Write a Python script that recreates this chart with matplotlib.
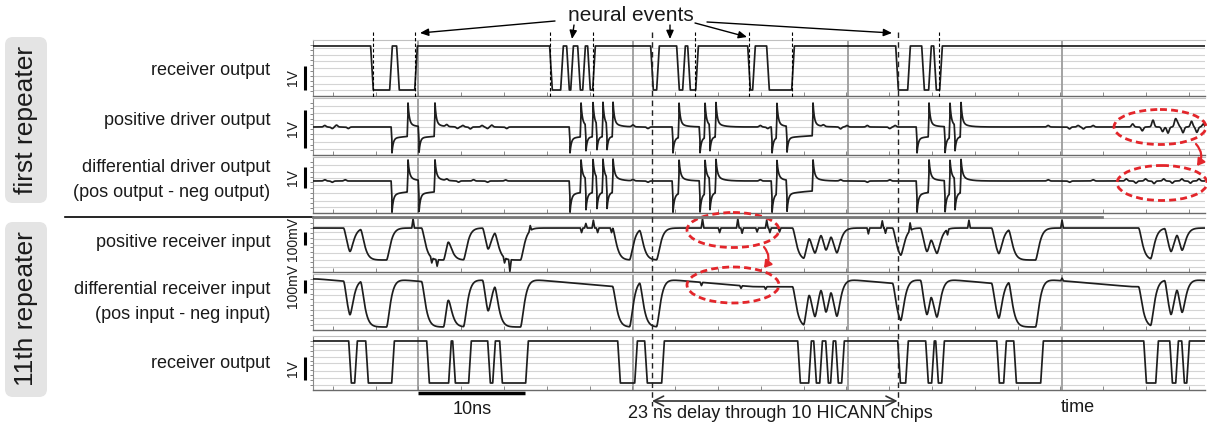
import numpy as np
import matplotlib
matplotlib.use("Agg")
import matplotlib.pyplot as plt
from matplotlib.patches import Ellipse, FancyBboxPatch, FancyArrowPatch
from matplotlib.transforms import blended_transform_factory

plt.rcParams['font.family'] = ['Liberation Sans', 'DejaVu Sans']

# ---------------- data (time in ns) ----------------
t_end = 83.36
# first repeater receiver output: alternating edges (high->low, low->high, ...)
rx1_out_edges = [5.51, 7.29, 7.94, 9.63,
                 22.24, 23.27, 23.83, 24.21, 24.86, 25.33, 25.79, 26.26,
                 31.68, 32.24, 34.11, 34.67, 35.14, 35.89,
                 40.75, 41.21, 42.52, 44.86,
                 54.58, 55.70, 57.01, 57.66, 58.13, 58.69]
# driver output spikes: alternating negative / positive
drv_edges = [7.38, 8.88, 9.91, 11.40,
             24.02, 25.05, 25.51, 26.17, 26.54, 27.10, 27.48, 28.04,
             33.64, 34.21, 36.17, 36.64, 37.10, 37.66,
             42.90, 43.36, 44.30, 46.73,
             56.45, 57.57, 59.07, 59.53, 60.00, 60.56]
drv_pos_ripple_t = [1.1, 1.8, 2.2, 3.3, 12.5, 13.5, 14.0, 14.7, 15.8, 16.3, 16.7, 18.1,
                    29.9, 31.3, 41.8, 42.5, 47.7, 49.3, 49.9, 51.8, 53.9, 54.4,
                    68.7, 70.7, 71.5, 72.0, 72.9, 76.6, 77.5, 78.5, 79.4, 79.9,
                    80.6, 80.8, 81.3, 82.1, 82.6, 83.2]
drv_pos_ripple_v = [0.04, -0.04, 0.05, -0.04, 0.05, -0.04, 0.04, -0.05, 0.04, -0.04, 0.05, -0.04,
                    0.05, -0.04, 0.04, -0.04, 0.04, -0.05, 0.04, 0.04, -0.04, 0.04,
                    0.04, -0.05, 0.04, -0.05, 0.04, 0.08, -0.10, 0.18, -0.12, -0.16,
                    0.20, 0.10, -0.15, 0.15, -0.14, 0.08]
drv_diff_ripple_t = [1.1, 1.8, 3.0, 12.5, 13.6, 15.0, 16.3, 18.0, 29.9, 31.3, 41.8,
                     49.3, 51.8, 53.9, 68.7, 70.7, 72.9, 76.0, 76.9, 77.8, 78.6,
                     79.5, 80.3, 81.2, 82.0, 82.8]
drv_diff_ripple_v = [0.06, -0.06, 0.06, 0.07, -0.06, 0.06, -0.06, 0.05, 0.06, -0.06, 0.06,
                     0.06, -0.06, 0.06, 0.06, -0.06, 0.06, 0.10, -0.10, 0.10, -0.12,
                     0.10, -0.10, 0.10, -0.10, 0.10]
# 11th repeater receiver input (ideal switching instants before line filtering)
rx11_in_edges = [2.86, 3.42, 4.45, 6.88, 10.15, 12.20, 12.58, 14.07, 15.85, 16.32, 16.97, 19.40,
                 28.00, 29.59, 30.52, 32.11,
                 44.82, 45.85, 46.32, 46.88, 47.44, 47.90, 48.37, 48.93,
                 54.17, 54.91, 56.78, 57.34, 57.72, 58.28,
                 63.42, 64.07, 65.01, 67.53,
                 77.16, 78.28, 79.59, 80.15, 80.71, 81.18]
rx11_pos_glitch_t = [9.35, 11.1, 11.6, 17.9, 18.4, 20.3, 25.1, 25.5, 26.2, 26.6, 27.9,
                     36.4, 38.0, 39.7, 40.1, 41.5, 42.4, 42.7, 43.6, 51.9, 53.2, 53.5,
                     55.8, 59.3, 61.3, 70.0]
rx11_pos_glitch_v = [70, -40, -50, -40, -90, 40, -35, 35, 60, -35, -35,
                     70, -35, 70, -40, -30, 60, -35, -30, -45, 55, -40,
                     60, -40, 60, 60]
rx11_diff_glitch_t = [36.3, 40.0, 42.3, 70.0]
rx11_diff_glitch_v = [-25, -20, -20, 20]
# 11th repeater receiver output
rx11_out_edges = [3.46, 4.02, 5.05, 7.48, 10.75, 12.80, 13.18, 14.67, 16.45, 16.92, 17.57, 20.00,
                  28.60, 30.19, 31.12, 32.71,
                  45.42, 46.45, 46.92, 47.48, 48.04, 48.50, 48.97, 49.53,
                  54.77, 55.51, 57.38, 57.94, 58.32, 58.88,
                  64.02, 64.67, 65.61, 68.13,
                  77.76, 78.88, 80.19, 80.75, 81.31, 81.78]

grid_t = [9.8, 29.9, 50.0, 70.0]
event_marks_t = [5.61, 9.53, 22.15, 26.17, 35.70, 40.75, 44.77, 58.50]
delay_marks_t = [31.68, 54.63]
scale_bar_t = [9.8, 19.8]

panel_labels = ["receiver output", "positive driver output",
                "differential driver output\n(pos output - neg output)",
                "positive receiver input",
                "differential receiver input\n(pos input - neg input)",
                "receiver output"]
scale_labels = ["1V", "1V", "1V", "100mV", "100mV", "1V"]

# ---------------- waveform rendering ----------------
dt = 0.01
t = np.arange(0, t_end, dt)


def digital(edges, hi, lo, ramp=0.25):
    xs, ys, lvl = [0.0], [hi], hi
    for e in edges:
        new = lo if lvl == hi else hi
        xs += [e - ramp / 2, e + ramp / 2]
        ys += [lvl, new]
        lvl = new
    xs.append(t_end)
    ys.append(lvl)
    return np.array(xs), np.array(ys)


def bumps(v, times, amps, sigma=0.15):
    for tr, a in zip(times, amps):
        v = v + a * np.exp(-((t - tr) / sigma) ** 2)
    return v


def driver(edges, base, a_pos, a_neg, off0, off1, tau=0.12, tail=0.15):
    v = np.full_like(t, base)
    for i, e in enumerate(edges):
        d = t - e
        after = d >= 0
        lead = (d > -0.08) & (d < 0)
        if i % 2 == 0:
            nxt = edges[i + 1] if i + 1 < len(edges) else t_end
            low = (t >= e) & (t < nxt)
            v[low] -= off1 + (off0 - off1) * np.exp(-d[low] / 2.0)
            v[after] -= a_neg * np.exp(-d[after] / tau)
            v[lead] -= a_neg * (1 + d[lead] / 0.08)
        else:
            v[after] += a_pos * ((1 - tail) * np.exp(-d[after] / tau) +
                                 tail * np.exp(-d[after] / 0.6))
            v[lead] += a_pos * (1 + d[lead] / 0.08)
    return v


def analog(edges, hi, lo, tau=0.23, droop_rate=0.0, droop_max=0.0):
    e = np.array(edges)
    n = np.searchsorted(e, t, side='right')
    high = (n % 2 == 0)
    last = np.where(n > 0, e[np.maximum(n - 1, 0)], 0.0)
    h = hi - np.minimum(droop_rate * (t - last), droop_max)
    ideal = np.where(high, h, lo)
    y = np.empty_like(ideal)
    y1 = y2 = ideal[0]
    a = dt / tau
    for i, x in enumerate(ideal):
        y1 += a * (x - y1)
        y2 += a * (y1 - y2)
        y[i] = y2
    return y


def glitches(v, times, amps, hw=0.12):
    for tg, a in zip(times, amps):
        v = v + a * np.clip(1 - np.abs(t - tg) / hw, 0, None)
    return v


p1x, p1y = digital(rx1_out_edges, 1.8, 0.0)
p2 = bumps(driver(drv_edges, 0.9, 0.63, 0.38, 0.30, 0.20), drv_pos_ripple_t, drv_pos_ripple_v)
p3 = bumps(driver(drv_edges, 0.0, 1.0, 0.83, 0.65, 0.40, tau=0.13, tail=0.2),
           drv_diff_ripple_t, drv_diff_ripple_v)
p4 = glitches(analog(rx11_in_edges, 246, 0), rx11_pos_glitch_t, rx11_pos_glitch_v)
p5 = glitches(analog(rx11_in_edges, 185, -185, droop_rate=7, droop_max=60),
              rx11_diff_glitch_t, rx11_diff_glitch_v)
p6x, p6y = digital(rx11_out_edges, 1.8, 0.0)

# ---------------- figure / layout ----------------
W, H = 1207, 428
fig = plt.figure(figsize=(W / 100, H / 100), dpi=100, facecolor='white')
X0, X1 = 313, 1205
panels_px = [(40, 96), (98, 155), (157, 213), (218, 272), (274, 330), (336, 390)]
ylims = [(-0.245, 2.045), (0.163, 1.663), (-1.52, 1.14), (-92, 323), (-208, 223), (-0.30, 2.014)]

axes = []
for (top, bot), yl in zip(panels_px, ylims):
    ax = fig.add_axes([X0 / W, 1 - bot / H, (X1 - X0) / W, (bot - top) / H])
    ax.set_xlim(0, t_end)
    ax.set_ylim(*yl)
    for f in [0.1, 0.22, 0.36, 0.5, 0.62, 0.74, 0.86]:
        ax.axhline(yl[0] + f * (yl[1] - yl[0]), color='#d4d4d4', lw=0.8, zorder=0)
    for g in grid_t:
        ax.axvline(g, color='#9c9c9c', lw=1.3, zorder=1)
    ax.spines['right'].set_visible(False)
    ax.spines['top'].set_color('#c0c0c0')
    ax.spines['top'].set_linewidth(0.8)
    ax.spines['bottom'].set_color('#6a6a6a')
    ax.spines['bottom'].set_linewidth(1.0)
    ax.spines['left'].set_color('#8a8a8a')
    ax.spines['left'].set_linewidth(0.8)
    ax.set_xticks(np.arange(1.85, t_end, 4.0))
    ax.set_xticklabels([])
    ax.set_yticks(np.linspace(yl[0], yl[1], 12)[1:-1])
    ax.set_yticklabels([])
    ax.tick_params(axis='x', direction='in', length=3, color='#888888', width=0.7)
    ax.tick_params(axis='y', direction='out', length=2.5, color='#888888', width=0.7)
    axes.append(ax)

lc, lw = '#1e1e1e', 1.25
axes[0].plot(p1x, p1y, color=lc, lw=lw, zorder=3)
axes[1].plot(t, p2, color=lc, lw=lw, zorder=3)
axes[2].plot(t, p3, color=lc, lw=lw, zorder=3)
axes[3].plot(t, p4, color=lc, lw=lw, zorder=3)
axes[4].plot(t, p5, color=lc, lw=lw, zorder=3)
axes[5].plot(p6x, p6y, color=lc, lw=lw, zorder=3)

# ---------------- overlay (pixel coordinates) ----------------
ov = fig.add_axes([0, 0, 1, 1], zorder=10)
ov.set_xlim(0, W)
ov.set_ylim(H, 0)
ov.axis('off')
ov.patch.set_alpha(0)

txt = '#1a1a1a'
# repeater boxes
ov.add_patch(FancyBboxPatch((5, 37), 42, 166, boxstyle="round,pad=0,rounding_size=8",
                            fc='#e4e4e4', ec='none'))
ov.add_patch(FancyBboxPatch((5, 222), 42, 175, boxstyle="round,pad=0,rounding_size=8",
                            fc='#e4e4e4', ec='none'))
ov.text(26, 120, "first repeater", rotation=90, ha='center', va='center', fontsize=19, color=txt)
ov.text(26, 309, "11th repeater", rotation=90, ha='center', va='center', fontsize=19, color=txt)

label_y = [70, 120, 180, 242, 302, 363]
for lab, y in zip(panel_labels, label_y):
    ov.text(270, y, lab, ha='right', va='center', fontsize=13, color=txt, linespacing=1.55)

# separator line
ov.plot([65, X0], [216.5, 216.5], color='k', lw=1.2)
ov.plot([X0, 1102], [216.5, 216.5], color='#7a7a7a', lw=2.0)

# scale bars
bars = [(0.0, 1.0), (0.35, 1.35), (-0.33, 0.67), (115, 215), (77, 177), (0.13, 1.13)]
for ax, (b0, b1), lab in zip(axes, bars, scale_labels):
    tr = blended_transform_factory(ov.transData, ax.transData)
    ov.plot([305, 305], [b0, b1], color='k', lw=2.2, transform=tr, solid_capstyle='butt')
    ov.text(293, (b0 + b1) / 2, lab, rotation=90, ha='center', va='center',
            fontsize=10, color=txt, transform=tr)

# event marks
trx = blended_transform_factory(axes[0].transData, ov.transData)
for e in event_marks_t:
    ov.plot([e, e], [32, 97], color='k', lw=0.8, ls=(0, (3, 2)), transform=trx)
for e in delay_marks_t:
    ov.plot([e, e], [32, 406], color='#222222', lw=1.0, ls=(0, (4, 3)), transform=trx)

# neural events annotation
ov.text(631, 15, "neural events", ha='center', va='center', fontsize=15, color=txt)
arrows = [((555, 21), (420, 33)), ((574, 25), (572, 39)), ((670, 25), (670, 39)),
          ((695, 23), (747, 37)), ((707, 22), (892, 33))]
for (x0, y0), (x1, y1) in arrows:
    ov.annotate('', xy=(x1, y1), xytext=(x0, y0),
                arrowprops=dict(arrowstyle='-|>,head_length=0.5,head_width=0.22', color='k',
                                lw=1.0, shrinkA=0, shrinkB=0))

# red dashed ellipses and arrows
red = '#e3262b'
for (cx, cy, w, h) in [(1160, 127, 92, 35), (1162, 183, 90, 35), (733, 230, 92, 35), (733, 285, 92, 36)]:
    ov.add_patch(Ellipse((cx, cy), w, h, fill=False, ec=red, lw=2.0, ls=(0, (2.5, 1.5))))
for (a, b) in [((1196, 144), (1197, 166)), ((764, 247), (764, 268))]:
    ov.add_patch(FancyArrowPatch(a, b, connectionstyle='arc3,rad=-0.4',
                                 arrowstyle='-|>,head_length=4,head_width=2.5',
                                 color=red, lw=1.6, shrinkA=0, shrinkB=0))

# bottom scale bar and delay arrow
trb = blended_transform_factory(axes[5].transData, ov.transData)
ov.plot(scale_bar_t, [393, 393], color='k', lw=2.5, transform=trb, solid_capstyle='butt')
ov.text(472, 409, "10ns", ha='center', va='center', fontsize=13, color=txt)
ov.annotate('', xy=(delay_marks_t[1], 401), xytext=(delay_marks_t[0], 401),
            xycoords=trb, textcoords=trb,
            arrowprops=dict(arrowstyle='<->,head_length=0.7,head_width=0.35',
                            color='#333333', lw=1.2, shrinkA=0, shrinkB=0))
ov.text(780, 414, "23 ns delay through 10 HICANN chips", ha='center', va='center',
        fontsize=13, color=txt)
ov.text(1078, 408, "time", ha='center', va='center', fontsize=13, color=txt)

fig.savefig("out.png", dpi=100, facecolor='white')
